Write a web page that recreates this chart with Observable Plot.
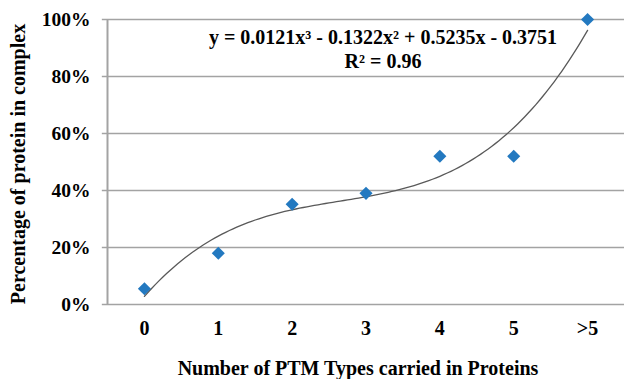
<!DOCTYPE html>
<html>
<head>
<meta charset="utf-8">
<script src="https://cdn.jsdelivr.net/npm/d3@7"></script>
<script src="https://cdn.jsdelivr.net/npm/@observablehq/plot@0.6"></script>
<style>
  html, body { margin: 0; padding: 0; background: #fff; }
</style>
</head>
<body>
<div id="chart"></div>
<script>
// Category labels (number of PTM types) and share of proteins found in complexes
const categories = ["0", "1", "2", "3", "4", "5", ">5"];
const shares = [0.055, 0.18, 0.352, 0.39, 0.52, 0.52, 1.0];
const yTicks = [0, 0.2, 0.4, 0.6, 0.8, 1.0];

// Cubic trend line coefficients (x = category index 1..7): a x³ + b x² + c x + d
const trendCoef = [0.0121, -0.1322, 0.5235, -0.3751];
const trendLabel = "y = 0.0121x³ - 0.1322x² + 0.5235x - 0.3751\nR² = 0.96";

const xTitle = "Number of PTM Types carried in Proteins";
const yTitle = "Percentage of protein in complex";

const points = categories.map((c, i) => ({idx: i + 1, label: c, share: shares[i]}));

// Evaluate the fitted polynomial along the category range
const [a, b, c, d] = trendCoef;
const trend = d3.range(1, 7.0001, 0.05).map(x => ({x, y: a * x ** 3 + b * x ** 2 + c * x + d}));

const gridColor = "#a3a3a3";

const chart = Plot.plot({
  width: 624,
  height: 379,
  marginLeft: 107,
  marginRight: 0,
  marginTop: 19,
  marginBottom: 75,
  style: {
    fontFamily: "'Liberation Serif', 'Times New Roman', serif",
    fontWeight: "bold",
    fontSize: "20px",
    color: "#000",
    background: "#fff"
  },
  x: {domain: [0.5, 7.5]},
  y: {domain: [0, 1]},
  marks: [
    Plot.ruleY(yTicks, {stroke: gridColor, strokeWidth: 1.6, x1: 0.43, x2: 7.5}),
    Plot.ruleX([0.5], {y1: 0, y2: 1, stroke: gridColor, strokeWidth: 2}),
    Plot.axisY(yTicks, {
      tickFormat: d3.format(".0%"),
      tickSize: 0,
      tickPadding: 17,
      fontSize: 19.5,
      label: null
    }),
    Plot.axisX(d3.range(1, 8), {
      tickFormat: i => categories[i - 1],
      tickSize: 0,
      tickPadding: 16,
      fontSize: 20,
      label: null
    }),
    // Axis titles
    Plot.text([xTitle], {
      frameAnchor: "bottom",
      dx: -8,
      dy: 64,
      lineAnchor: "middle",
      fontSize: 20,
      fill: "#000"
    }),
    Plot.text([yTitle], {
      frameAnchor: "left",
      dx: -89,
      dy: 2,
      rotate: -90,
      textAnchor: "middle",
      lineAnchor: "middle",
      fontSize: 20,
      fill: "#000"
    }),
    Plot.line(trend, {x: "x", y: "y", stroke: "#595959", strokeWidth: 1.3, curve: "linear"}),
    Plot.dot(points, {x: "idx", y: "share", symbol: "diamond2", r: 5.9, fill: "#2379c0", stroke: "none"}),
    Plot.text([trendLabel], {
      frameAnchor: "top",
      dx: 17,
      dy: 8,
      lineAnchor: "top",
      lineHeight: 1.17,
      fontSize: 20,
      fill: "#000"
    })
  ]
});

document.getElementById("chart").appendChild(chart);
</script>
</body>
</html>
